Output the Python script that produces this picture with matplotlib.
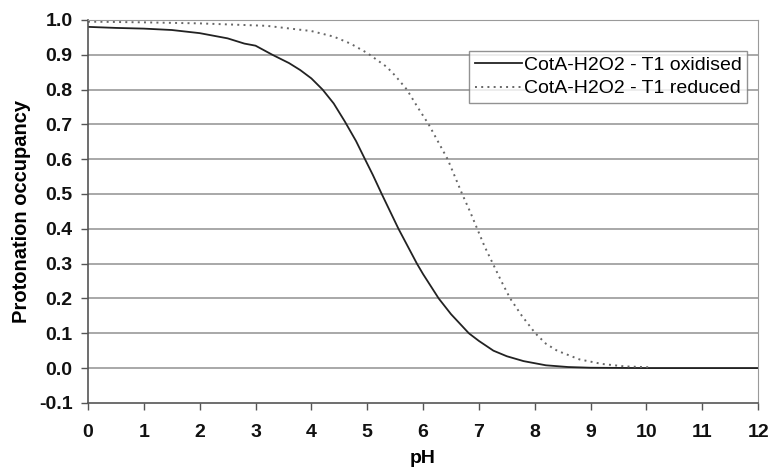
import matplotlib.pyplot as plt
import numpy as np

plt.rcParams["font.family"] = ["Liberation Sans", "DejaVu Sans"]

# readings from the reference picture
ph_ox = [0, 0.5, 1, 1.5, 2, 2.5, 2.8, 3.0, 3.3, 3.6, 3.8, 4.0, 4.2, 4.4,
         4.6, 4.8, 4.96, 5.1, 5.26, 5.56, 5.89, 6.0, 6.28, 6.5, 6.82, 7.0,
         7.26, 7.5, 7.8, 8.2, 8.6, 9, 10, 11, 12]
occ_ox = [0.98, 0.977, 0.975, 0.971, 0.962, 0.947, 0.932, 0.926, 0.9, 0.876,
          0.856, 0.832, 0.8, 0.76, 0.708, 0.652, 0.6, 0.555, 0.5, 0.4, 0.3,
          0.27, 0.2, 0.155, 0.1, 0.078, 0.05, 0.034, 0.02, 0.008, 0.003,
          0.001, 0.0, 0.0, 0.0]

ph_red = [0, 1, 2, 3.2, 4.0, 4.4, 4.7, 5.0, 5.35, 5.5, 5.71, 5.9, 6.1,
          6.27, 6.44, 6.57, 6.7, 6.84, 6.97, 7.1, 7.25, 7.4, 7.56, 7.77,
          8.01, 8.2, 8.4, 8.8, 9.2, 9.6, 10.1]
occ_red = [0.995, 0.993, 0.99, 0.983, 0.968, 0.952, 0.932, 0.905, 0.865,
           0.84, 0.8, 0.75, 0.7, 0.65, 0.6, 0.55, 0.5, 0.45, 0.4, 0.35, 0.3,
           0.25, 0.2, 0.15, 0.1, 0.07, 0.05, 0.025, 0.012, 0.005, 0.002]

labels = ["CotA-H2O2 - T1 oxidised", "CotA-H2O2 - T1 reduced"]
x_ticks = list(range(0, 13))
y_ticks = [round(-0.1 + 0.1 * i, 1) for i in range(12)]

fig = plt.figure(figsize=(7.72, 4.74), dpi=100)
ax = fig.add_axes([0.114, 0.150, 0.868, 0.808])

for y in y_ticks[1:]:
    ax.axhline(y, color="#9a9a9a", lw=1.2, zorder=0)

ax.plot(ph_ox, occ_ox, color="#222222", lw=1.3, label=labels[0])
ax.plot(ph_red, occ_red, color="#666666", lw=1.4, ls=(0, (1, 2.2)),
        label=labels[1])

ax.set_xlim(0, 12)
ax.set_ylim(-0.1, 1.0)
ax.set_xticks(x_ticks)
ax.set_yticks(y_ticks)
ax.set_yticklabels([f"{v:.1f}" for v in y_ticks])
ax.tick_params(axis="both", direction="out", length=5, width=1,
               color="#555555", labelsize=14)
ax.tick_params(axis="x", pad=10)
ax.tick_params(axis="y", pad=6)
for lab in ax.get_xticklabels() + ax.get_yticklabels():
    lab.set_fontweight("bold")
    lab.set_color("#111111")

ax.spines["left"].set_color("#555555")
ax.spines["bottom"].set_color("#555555")
ax.spines["left"].set_linewidth(1.2)
ax.spines["bottom"].set_linewidth(1.2)
ax.spines["right"].set_color("#9a9a9a")
ax.spines["top"].set_color("#9a9a9a")

ax.set_xlabel("pH", fontsize=14, fontweight="bold", labelpad=7)
ax.set_ylabel("Protonation occupancy", fontsize=14.5, fontweight="bold",
              labelpad=6)

leg = ax.legend(loc="upper right", bbox_to_anchor=(0.984, 0.92),
                fontsize=14, frameon=True, fancybox=False,
                handlelength=2.4, handletextpad=0.1, borderpad=0.3,
                labelspacing=0.3, borderaxespad=0)
leg.get_frame().set_edgecolor("#777777")
leg.get_frame().set_linewidth(1.0)

fig.savefig("out.png", dpi=100)
